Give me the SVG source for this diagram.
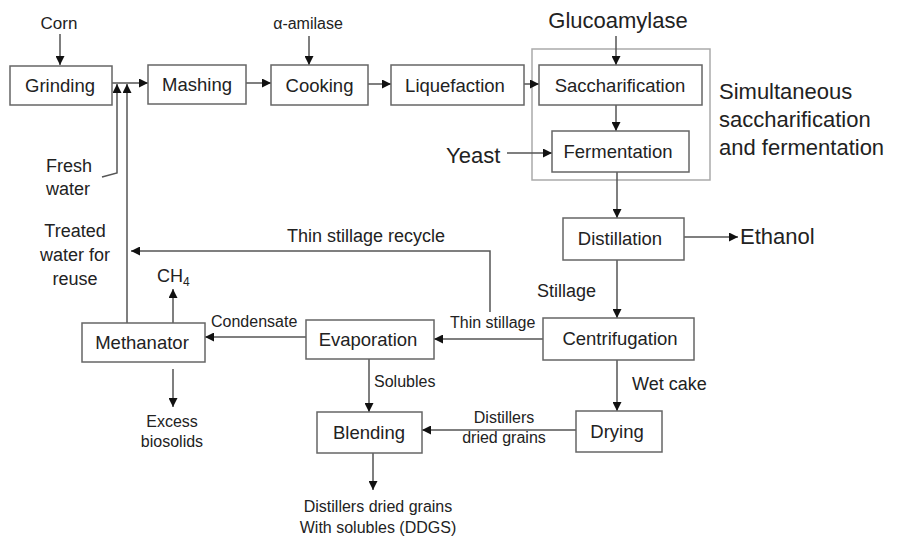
<svg xmlns="http://www.w3.org/2000/svg" width="899" height="536" viewBox="0 0 899 536">
<defs>
<marker id="ah" viewBox="0 0 10 10" refX="10" refY="5" markerWidth="10" markerHeight="9" markerUnits="userSpaceOnUse" orient="auto">
<path d="M0,0 L10,5 L0,10 Z" fill="#111"/>
</marker>
</defs>
<style>
.box{fill:#fff;stroke:#666;stroke-width:1.5}
.ssf{fill:none;stroke:#aaa;stroke-width:1.5}
.ln{fill:none;stroke:#555;stroke-width:1.5}
.ar{fill:none;stroke:#555;stroke-width:1.5;marker-end:url(#ah)}
text{font-family:"Liberation Sans",Arial,sans-serif;fill:#222}
.bt{font-size:18.5px;text-anchor:middle}
.lb{font-size:16px}
.lg{font-size:22px}
.c{text-anchor:middle}
</style>
<rect id="ssf-group" class="ssf" x="532" y="49" width="178" height="131"/>
<g id="connectors">
<line class="ar" x1="60" y1="34" x2="60" y2="65"/>
<line class="ar" x1="112" y1="83" x2="148" y2="83"/>
<line class="ar" x1="246" y1="83" x2="271" y2="83"/>
<line class="ar" x1="309" y1="36" x2="309" y2="65"/>
<line class="ar" x1="368" y1="84" x2="391" y2="84"/>
<line class="ar" x1="524" y1="84" x2="539" y2="84"/>
<line class="ar" x1="616" y1="36" x2="616" y2="65"/>
<line class="ar" x1="616" y1="105" x2="616" y2="131"/>
<line class="ar" x1="507" y1="153" x2="552" y2="153"/>
<line class="ar" x1="617" y1="172" x2="617" y2="218"/>
<line class="ar" x1="684" y1="237" x2="738" y2="237"/>
<line class="ar" x1="617" y1="260" x2="617" y2="318"/>
<line class="ar" x1="617" y1="360" x2="617" y2="411"/>
<line class="ar" x1="543" y1="339" x2="434" y2="339"/>
<line class="ar" x1="576" y1="430" x2="422" y2="430"/>
<line class="ar" x1="369" y1="359" x2="369" y2="412"/>
<line class="ar" x1="373" y1="453" x2="373" y2="490"/>
<line class="ar" x1="306" y1="337" x2="205" y2="337"/>
<line class="ar" x1="173" y1="323" x2="173" y2="289"/>
<line class="ar" x1="173" y1="369" x2="173" y2="407"/>
<polyline class="ar" points="490,312 490,251 131,251"/>
<line class="ar" x1="127" y1="323" x2="127" y2="84"/>
<polyline class="ar" points="102,177 117,173 117,84"/>
</g>
<g id="grinding"><rect class="box" x="10" y="66" width="102" height="39"/><text class="bt" x="60" y="92">Grinding</text></g>
<g id="mashing"><rect class="box" x="148" y="65" width="98" height="39"/><text class="bt" x="197" y="91">Mashing</text></g>
<g id="cooking"><rect class="box" x="271" y="65" width="97" height="40"/><text class="bt" x="319.5" y="91.5">Cooking</text></g>
<g id="liquefaction"><rect class="box" x="391" y="65" width="133" height="40"/><text class="bt" x="455" y="91.5">Liquefaction</text></g>
<g id="saccharification"><rect class="box" x="539" y="65" width="163" height="40"/><text class="bt" x="620" y="91.5">Saccharification</text></g>
<g id="fermentation"><rect class="box" x="552" y="131" width="137" height="41"/><text class="bt" x="618" y="158">Fermentation</text></g>
<g id="distillation"><rect class="box" x="563" y="218" width="121" height="42"/><text class="bt" x="620" y="245">Distillation</text></g>
<g id="centrifugation"><rect class="box" x="543" y="318" width="151" height="42"/><text class="bt" x="620" y="345">Centrifugation</text></g>
<g id="drying"><rect class="box" x="576" y="411" width="86" height="41"/><text class="bt" x="617" y="438">Drying</text></g>
<g id="evaporation"><rect class="box" x="306" y="320" width="128" height="39"/><text class="bt" x="368" y="346">Evaporation</text></g>
<g id="blending"><rect class="box" x="317" y="412" width="105" height="41"/><text class="bt" x="369" y="439">Blending</text></g>
<g id="methanator"><rect class="box" x="82" y="323" width="123" height="39"/><text class="bt" x="142" y="349">Methanator</text></g>
<g id="labels">
<text class="c" x="59" y="29" font-size="17px">Corn</text>
<text class="c" x="308" y="29" font-size="16px">α-amilase</text>
<text class="lg c" x="618" y="28">Glucoamylase</text>
<text class="lg" x="446" y="163">Yeast</text>
<text class="lg" x="719" y="99">Simultaneous</text>
<text class="lg" x="719" y="127">saccharification</text>
<text class="lg" x="719" y="155">and fermentation</text>
<text class="lg" x="740" y="244">Ethanol</text>
<text x="537" y="297" font-size="18px">Stillage</text>
<text x="632" y="390" font-size="18px">Wet cake</text>
<text x="450" y="328" font-size="16px">Thin stillage</text>
<text x="287" y="242" font-size="18px">Thin stillage recycle</text>
<text x="374" y="387" class="lb">Solubles</text>
<text x="504" y="423" class="lb c">Distillers</text>
<text x="504" y="443" class="lb c">dried grains</text>
<text x="378" y="512" class="lb c">Distillers dried grains</text>
<text x="378" y="533" class="lb c">With solubles (DDGS)</text>
<text x="211" y="327" class="lb">Condensate</text>
<text x="46" y="172" font-size="18px">Fresh</text>
<text x="46" y="195" font-size="18px">water</text>
<text x="75" y="237" font-size="18px" class="c">Treated</text>
<text x="75" y="261" font-size="18px" class="c">water for</text>
<text x="75" y="285" font-size="18px" class="c">reuse</text>
<text x="157" y="282" font-size="18px">CH<tspan font-size="12px" dy="4">4</tspan></text>
<text x="172" y="427" class="lb c">Excess</text>
<text x="172" y="447" class="lb c">biosolids</text>
</g>
</svg>
